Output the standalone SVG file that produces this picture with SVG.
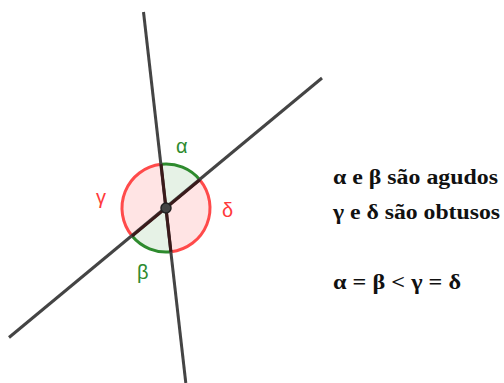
<svg xmlns="http://www.w3.org/2000/svg" width="504" height="383" viewBox="0 0 504 383">
<style>
.ln{stroke:#444;stroke-width:3;fill:none;stroke-linecap:butt}
.acute{fill:#e6f2e6;stroke:none}
.obt{fill:#ffe4e4;stroke:none}
.garc{fill:none;stroke:#2e8b2e;stroke-width:3}
.rarc{fill:none;stroke:#ff4a4a;stroke-width:3}
.gl{font-family:"Liberation Sans",Arial,sans-serif;font-size:20px;fill:#2e8b2e}
.rl{font-family:"Liberation Sans",Arial,sans-serif;font-size:20px;fill:#ff3b3b}
.tx{font-family:"Liberation Serif","Times New Roman",serif;font-weight:bold;font-size:20px;fill:#111}
</style>
<rect width="504" height="383" fill="#fff"/>
<g id="sectors">
<path class="acute" d="M166,208 L161.07,164.27 A44,44 0 0 1 199.91,179.96 Z"/>
<path class="obt" d="M166,208 L199.91,179.96 A44,44 0 0 1 170.93,251.73 Z"/>
<path class="acute" d="M166,208 L170.93,251.73 A44,44 0 0 1 132.09,236.04 Z"/>
<path class="obt" d="M166,208 L132.09,236.04 A44,44 0 0 1 161.07,164.27 Z"/>
<path class="garc" d="M161.07,164.27 A44,44 0 0 1 199.91,179.96"/>
<path class="rarc" d="M199.91,179.96 A44,44 0 0 1 170.93,251.73"/>
<path class="garc" d="M170.93,251.73 A44,44 0 0 1 132.09,236.04"/>
<path class="rarc" d="M132.09,236.04 A44,44 0 0 1 161.07,164.27"/>
</g>
<g id="connectors">
<line class="ln" x1="143.5" y1="12" x2="185.8" y2="383"/>
<line class="ln" x1="9" y1="337.5" x2="322" y2="78"/>
<line x1="161.07" y1="164.27" x2="170.93" y2="251.73" stroke="#3a1a1a" stroke-width="3"/>
<line x1="199.91" y1="179.96" x2="132.09" y2="236.04" stroke="#3a1a1a" stroke-width="3"/>
</g>
<g id="vertex">
<circle cx="166" cy="208" r="5" fill="#444" stroke="#222" stroke-width="1.5"/>
</g>
<g id="labels">
<text class="gl" x="176" y="153">α</text>
<text class="gl" x="137" y="279">β</text>
<text class="rl" x="96" y="204">γ</text>
<text class="rl" x="222" y="217">δ</text>
</g>
<g id="notes">
<text class="tx" x="333" y="184" textLength="165" lengthAdjust="spacingAndGlyphs">α e β são agudos</text>
<text class="tx" x="333" y="219" textLength="167" lengthAdjust="spacingAndGlyphs">γ e δ são obtusos</text>
<text class="tx" x="333" y="289" textLength="128" lengthAdjust="spacingAndGlyphs">α = β &lt; γ = δ</text>
</g>
</svg>
